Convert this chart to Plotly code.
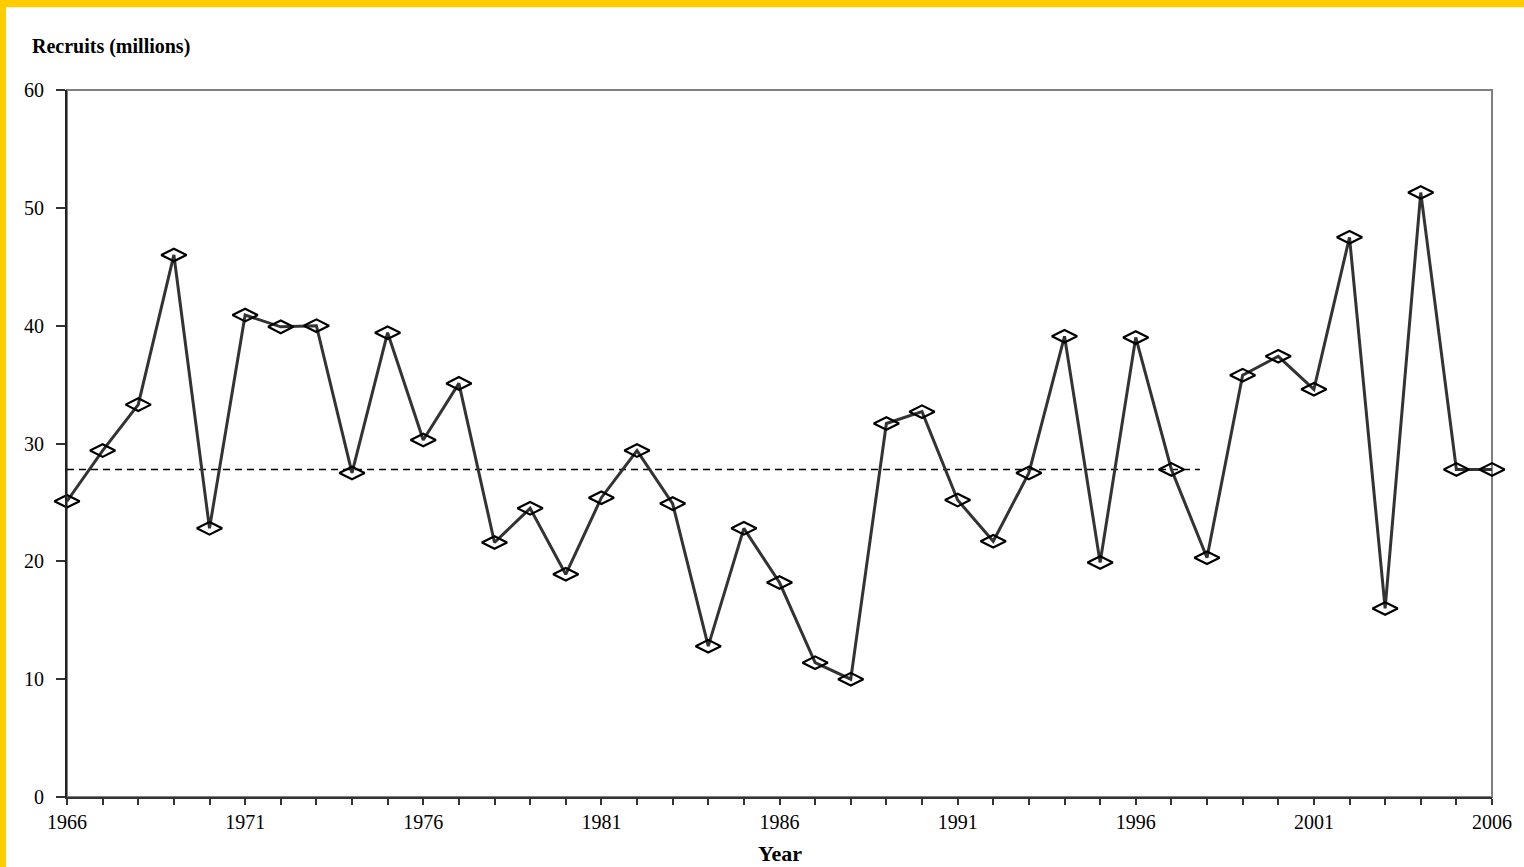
import plotly.graph_objects as go

# recruitment by year
years = list(range(1966, 2007))
recruits = [25.1, 29.4, 33.3, 46.0, 22.8, 40.9, 39.9, 40.0, 27.5, 39.4,
            30.3, 35.1, 21.6, 24.5, 18.9, 25.4, 29.4, 24.9, 12.8, 22.8,
            18.2, 11.4, 10.0, 31.7, 32.7, 25.2, 21.7, 27.5, 39.1, 19.9,
            39.0, 27.8, 20.3, 35.8, 37.4, 34.6, 47.5, 16.0, 51.3, 27.8,
            27.8]

# long-term mean (dashed)
mean_years = [1966, 1997.8]
mean_level = [27.8, 27.8]

x_ticks = list(range(1966, 2007))
x_labels = [str(y) if (y - 1966) % 5 == 0 else "" for y in x_ticks]
y_ticks = [0, 10, 20, 30, 40, 50, 60]

serif = "Liberation Serif, Times New Roman, serif"

fig = go.Figure()
fig.add_trace(go.Scatter(x=mean_years, y=mean_level, mode="lines",
                         line=dict(color="black", width=1.5, dash="7px,5px"),
                         hoverinfo="skip", showlegend=False))
fig.add_trace(go.Scatter(x=years, y=recruits, mode="lines+markers",
                         line=dict(color="#333333", width=3),
                         marker=dict(symbol="diamond-wide-open", size=18, color="black",
                                     line=dict(color="black", width=2.2)),
                         cliponaxis=False, showlegend=False))

# white page over a gold background -> gold strip at top and left
fig.add_shape(type="rect", xref="paper", yref="paper",
              x0=-0.0428, x1=1.2, y0=-0.3, y1=1.117,
              fillcolor="white", line=dict(width=0), layer="below")
# plot frame (grey top / right)
fig.add_shape(type="rect", xref="paper", yref="paper", x0=0, x1=1, y0=0, y1=1,
              line=dict(color="#808080", width=2), layer="below")

fig.add_annotation(text="<b>Recruits (millions)</b>", xref="paper", yref="paper",
                   x=-0.026, y=1.061, xanchor="left", yanchor="middle", showarrow=False,
                   font=dict(family=serif, size=20, color="black"))
fig.add_annotation(text="<b>Year</b>", xref="paper", yref="paper",
                   x=0.5, y=-0.080, xanchor="center", yanchor="middle", showarrow=False,
                   font=dict(family=serif, size=22, color="black"))

fig.update_xaxes(range=[1966, 2006], tickvals=x_ticks, ticktext=x_labels,
                 ticks="outside", ticklen=6, tickwidth=1.5, tickcolor="#333333",
                 showline=True, linecolor="#333333", linewidth=2,
                 showgrid=False, zeroline=False,
                 tickfont=dict(family=serif, size=20, color="black"))
fig.update_yaxes(range=[0, 60], tickvals=y_ticks,
                 ticks="outside", ticklen=9, tickwidth=1.5, tickcolor="#333333",
                 showline=True, linecolor="#222222", linewidth=2,
                 showgrid=False, zeroline=False, ticklabelstandoff=8,
                 tickfont=dict(family=serif, size=20, color="black"))

fig.update_layout(width=1524, height=867,
                  margin=dict(l=67, r=32, t=90, b=70),
                  paper_bgcolor="#FFCC00", plot_bgcolor="white")

fig.write_html("out.html", config={"displayModeBar": False},
               post_script="document.body.style.margin='0';")
